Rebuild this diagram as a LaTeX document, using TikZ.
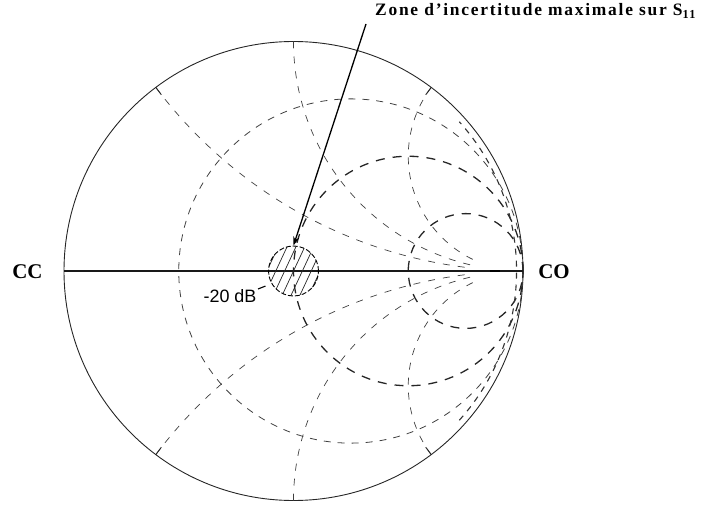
\documentclass[tikz,border=0pt]{standalone}
\usepackage{fontspec}
\setmainfont{Liberation Serif}
\newfontfamily\labelsans{Liberation Sans}
\newfontfamily\titlefont[LetterSpace=10]{Liberation Serif}
\usetikzlibrary{arrows.meta,calc}
\begin{document}
\begin{tikzpicture}[x=1bp,y=-1bp,
  outer/.style={line width=0.9bp, black!85},
  axisline/.style={line width=1.2bp, black!90},
  rdashthin/.style={line width=0.8bp, black!75, dash pattern=on 7bp off 7bp},
  rdashbold/.style={line width=1.3bp, black!85, dash pattern=on 9bp off 8bp},
  xdash/.style={line width=0.7bp, black!75, dash pattern=on 7bp off 8bp},
  hug/.style={line width=1.1bp, black!80, dash pattern=on 6bp off 6bp},
  tick/.style={line width=0.9bp, black!85},
  hatch/.style={line width=0.7bp, black!85},
  zonestyle/.style={circle, minimum size=50bp, inner sep=0pt, draw, line width=0.9bp, dash pattern=on 5bp off 2bp},
  lbl/.style={font=\bfseries\fontsize{21}{21}\selectfont, inner sep=0pt},
  dblbl/.style={font=\labelsans\fontsize{18}{18}\selectfont, inner sep=0pt},
  titlelbl/.style={font=\titlefont\bfseries\fontsize{17.5}{17.5}\selectfont, inner sep=0pt, anchor=base west},
  arrowline/.style={line width=1.3bp, -{Stealth[length=9bp,width=6bp]}}
]
\useasboundingbox (0,0) rectangle (707,512);
\begin{scope}[shift={(293.5,271)}, x=229.5bp, y=229.5bp]
  % outer circle r=0
  \draw[outer] (0,0) circle[radius=1];
  % resistance circles
  \draw[rdashthin] (0.25,0) circle[radius=0.75];
  \draw[rdashbold] (0.5,0) circle[radius=0.5];
  \draw[rdashbold] (0.75,0) circle[radius=0.25];
  % reactance arcs
  \foreach \s in {1,-1}{
    \begin{scope}[yscale=\s]
      \draw[xdash] (1,2) ++(216.87:2) arc[start angle=216.87, end angle=263.6, radius=2];
      \draw[xdash] (1,1) ++(180:1) arc[start angle=180, end angle=257.3, radius=1];
      \draw[xdash] (1,0.5) ++(143.13:0.5) arc[start angle=143.13, end angle=244.9, radius=0.5];
      \draw[tick] (126.87:1) -- (126.87:0.96);
      \draw[tick] (53.13:1) -- (53.13:0.96);
    \end{scope}
  }
  \draw[hug] (-42:0.972) arc[start angle=-42, end angle=42, radius=0.972];
  % axis
  \coordinate (cc) at (-1,0);
  \coordinate (co) at (1,0);
  \draw[axisline] (cc) -- (co);
  \draw[line width=2.8bp] (0.856,0) -- (0.9,0);
  % hatched zone
  \begin{scope}
    \clip (0,0) circle[radius=0.109];
    \begin{scope}[rotate=-25]
      \foreach \k in {-4,...,4}
        \draw[hatch] (\k*0.035,-0.2) -- (\k*0.035,0.2);
    \end{scope}
  \end{scope}
  \node[zonestyle] (zone) at (0,0) {};
\end{scope}
% labels
\node[lbl] (lcc) at (27.5,272) {CC};
\node[lbl] (lco) at (554,272) {CO};
\node[dblbl] (db) at (230,296) {-20 dB};
\coordinate (dbend) at (258,289);
\draw[line width=1.1bp, dash pattern=on 8bp off 10bp] (dbend) -- (zone.210);
\node[titlelbl] (title) at (375,16) {Zone d’incertitude maximale sur S\textsubscript{11}};
\coordinate (astart) at (366,24);
\draw[arrowline] (astart) -- (zone.north);
\end{tikzpicture}
\end{document}
